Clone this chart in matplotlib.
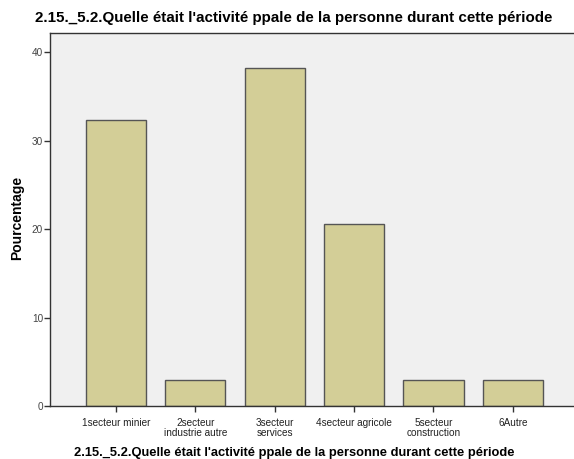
import matplotlib
matplotlib.use("Agg")
import matplotlib.pyplot as plt

categories = ["1secteur minier", "2secteur\nindustrie autre", "3secteur\nservices",
              "4secteur agricole", "5secteur\nconstruction", "6Autre"]
percentages = [32.35, 2.94, 38.24, 20.59, 2.94, 2.94]
yticks = [0, 10, 20, 30, 40]
title = "2.15._5.2.Quelle était l'activité ppale de la personne durant cette période"

plt.rcParams["font.family"] = ["Liberation Sans", "DejaVu Sans"]

fig = plt.figure(figsize=(5.74, 4.59), dpi=100)
ax = fig.add_axes([50 / 574, 1 - 406 / 459, 524 / 574, (406 - 32.5) / 459])
ax.set_facecolor("#F0F0F0")

x = range(len(categories))
ax.bar(x, percentages, width=0.76, color="#D3CE97", edgecolor="#555555", linewidth=1.0, zorder=2)

ax.set_xlim(-0.83, 5.77)
ax.set_ylim(0, 42.25)
ax.set_yticks(yticks)
ax.set_xticks(list(x))
ax.set_xticklabels(categories, fontsize=7.2, linespacing=0.95)
ax.tick_params(axis="y", labelsize=7.2, length=4, width=1, color="#333333", labelcolor="#444444", pad=1)
ax.tick_params(axis="x", length=4, width=1, color="#333333", labelcolor="#222222", pad=5)

ax.spines["right"].set_visible(False)
for side in ["left", "bottom", "top"]:
    ax.spines[side].set_color("#333333")
    ax.spines[side].set_linewidth(1.0)

fig.text(17 / 574, 1 - 218 / 459, "Pourcentage", rotation=90, ha="center", va="center",
         fontsize=10, fontweight="bold")
fig.text(0.512, 1 - 22 / 459, title, ha="center", va="baseline", fontsize=10.9, fontweight="bold")
fig.text(0.512, 1 - 456 / 459, title, ha="center", va="baseline", fontsize=9.3, fontweight="bold")

fig.savefig("out.png", dpi=100)
